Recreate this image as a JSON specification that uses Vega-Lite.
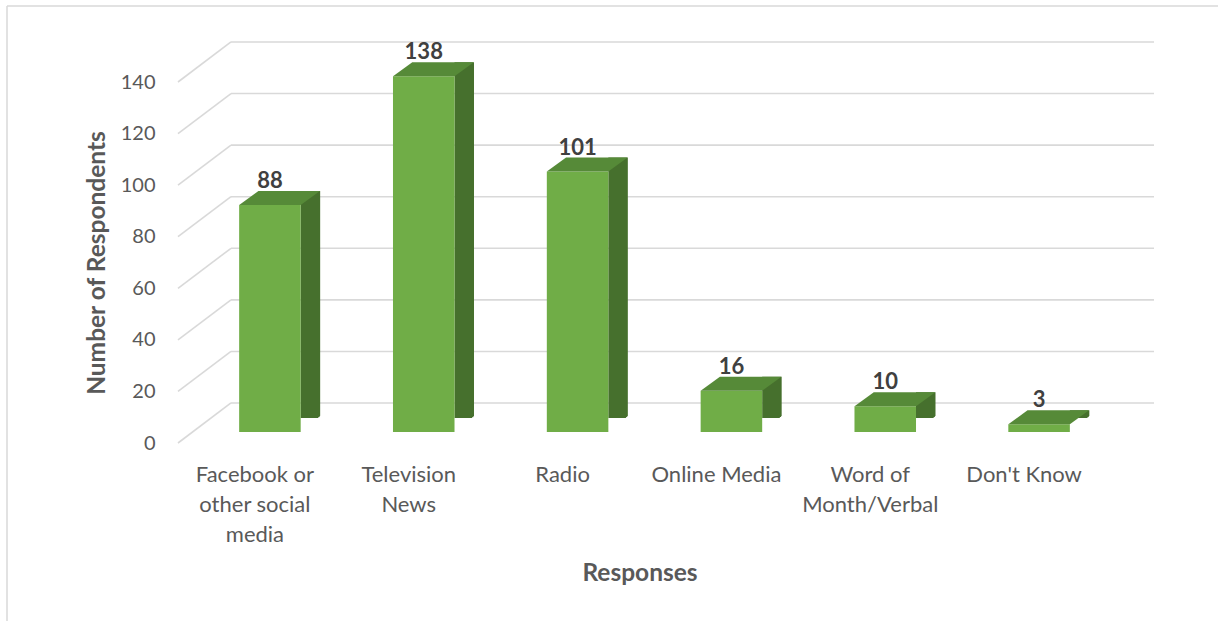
{
  "$schema": "https://vega.github.io/schema/vega-lite/v6.json",
  "autosize": {"type": "none"},
  "width": 923,
  "height": 361,
  "padding": {"left": 178, "top": 82, "right": 117, "bottom": 178},
  "background": "white",
  "config": {
    "view": {"stroke": null},
    "font": "Lato",
    "axis": {"labelFont": "Lato", "titleFont": "Lato"}
  },
  "datasets": {
    "resp": [
      {"response": "Facebook or other social media", "count": 88},
      {"response": "Television News", "count": 138},
      {"response": "Radio", "count": 101},
      {"response": "Online Media", "count": 16},
      {"response": "Word of Month/Verbal", "count": 10},
      {"response": "Don't Know", "count": 3}
    ],
    "ticks": [{"v": 0}, {"v": 20}, {"v": 40}, {"v": 60}, {"v": 80}, {"v": 100}, {"v": 120}, {"v": 140}]
  },
  "layer": [
    {
      "data": {"name": "ticks"},
      "mark": {"type": "point", "shape": "M -1 0 L 1 0", "size": 851929, "filled": false, "stroke": "#d9d9d9", "strokeWidth": 1.6, "opacity": 1, "xOffset": 53, "yOffset": -40},
      "encoding": {"y": {"field": "v", "type": "quantitative"}}
    },
    {
      "data": {"name": "ticks"},
      "mark": {"type": "point", "shape": "M 0 0 L 1 -0.755", "size": 11236, "filled": false, "stroke": "#d9d9d9", "strokeWidth": 1.6, "opacity": 1, "xOffset": -461.5},
      "encoding": {"y": {"field": "v", "type": "quantitative"}}
    },
    {
      "data": {"values": [{"b": 1}]},
      "mark": {"type": "point", "shape": "M -1 0 L 1 0", "size": 1466521, "filled": false, "stroke": "#d9d9d9", "strokeWidth": 1.5, "opacity": 1, "xOffset": -27, "yOffset": -76},
      "encoding": {"y": {"datum": 140, "type": "quantitative"}}
    },
    {
      "data": {"values": [{"b": 1}]},
      "mark": {"type": "rule", "color": "#d9d9d9", "strokeWidth": 1.5, "xOffset": -632.5, "yOffset": -76, "y2Offset": 180},
      "encoding": {"y": {"datum": 140, "type": "quantitative"}, "y2": {"datum": 0}}
    },
    {
      "data": {"name": "resp"},
      "mark": {"type": "bar", "color": "#46702D", "width": 19.5, "xOffset": 55.5, "yOffset": -25, "y2Offset": -11},
      "encoding": {
        "x": {"field": "response", "type": "nominal", "sort": null},
        "y": {"field": "count", "type": "quantitative"}
      }
    },
    {
      "data": {"name": "resp"},
      "mark": {"type": "point", "shape": "M 0.615 0.005 L 1.02 -0.32 L 1.02 0.02 L 0.615 0.02 Z", "size": 10000, "filled": true, "fill": "white", "stroke": "white", "strokeWidth": 1, "opacity": 1, "xOffset": 15, "yOffset": -11},
      "encoding": {
        "x": {"field": "response", "type": "nominal", "sort": null},
        "y": {"datum": 0, "type": "quantitative"}
      }
    },
    {
      "data": {"name": "resp"},
      "mark": {"type": "bar", "color": "#70AD47", "xOffset": 15, "x2Offset": 15, "yOffset": -11, "y2Offset": -11},
      "encoding": {
        "x": {
          "field": "response", "type": "nominal", "sort": null,
          "scale": {"paddingInner": 0.6, "paddingOuter": 0.3},
          "axis": {
            "title": "Responses",
            "titleFontSize": 24.5, "titleFontWeight": "bold", "titleColor": "#595959", "titlePadding": 16,
            "labelFontSize": 22, "labelColor": "#595959", "labelAngle": 0, "labelAlign": "center", "labelPadding": 31,
            "labelLineHeight": 30, "labelLimit": 300,
            "domain": false, "ticks": false,
            "labelExpr": "datum.value == 'Facebook or other social media' ? ['Facebook or', 'other social', 'media'] : datum.value == 'Television News' ? ['Television', 'News'] : datum.value == 'Word of Month/Verbal' ? ['Word of', 'Month/Verbal'] : datum.value"
          }
        },
        "y": {
          "field": "count", "type": "quantitative",
          "scale": {"domain": [0, 140], "nice": false},
          "axis": {
            "title": "Number of Respondents",
            "titleFontSize": 24.5, "titleFontWeight": "bold", "titleColor": "#595959", "titlePadding": 11,
            "labelFontSize": 20, "labelColor": "#595959", "labelPadding": 23,
            "values": [0, 20, 40, 60, 80, 100, 120, 140],
            "grid": false, "domain": false, "ticks": false
          }
        }
      }
    },
    {
      "data": {"name": "resp"},
      "mark": {"type": "point", "shape": "M -0.615 0 L 0.615 0 L 1.0 -0.28 L -0.23 -0.28 Z", "size": 10000, "filled": true, "fill": "#568A38", "strokeWidth": 0, "opacity": 1, "xOffset": 15, "yOffset": -11},
      "encoding": {
        "x": {"field": "response", "type": "nominal", "sort": null},
        "y": {"field": "count", "type": "quantitative"}
      }
    },
    {
      "data": {"name": "resp"},
      "mark": {"type": "text", "font": "Lato", "fontSize": 22, "fontWeight": "bold", "color": "#404040", "baseline": "alphabetic", "xOffset": 15, "yOffset": -28},
      "encoding": {
        "x": {"field": "response", "type": "nominal", "sort": null},
        "y": {"field": "count", "type": "quantitative"},
        "text": {"field": "count", "type": "quantitative"}
      }
    }
  ]
}
